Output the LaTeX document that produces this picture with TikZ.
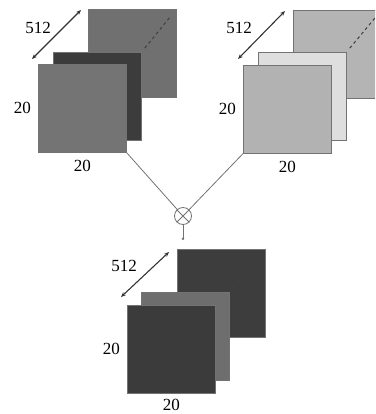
\documentclass[tikz,border=0pt]{standalone}
\usepackage{fontspec}
\setmainfont{Liberation Serif}
\usetikzlibrary{arrows.meta, positioning}

\definecolor{tlback}{HTML}{707070}
\definecolor{tlmid}{HTML}{3C3C3C}
\definecolor{tlfront}{HTML}{747474}
\definecolor{trback}{HTML}{B4B4B4}
\definecolor{trmid}{HTML}{DEDEDE}
\definecolor{trfront}{HTML}{B2B2B2}
\definecolor{btback}{HTML}{3D3D3D}
\definecolor{btmid}{HTML}{6E6E6E}
\definecolor{btfront}{HTML}{3B3B3B}

\begin{document}
\begin{tikzpicture}[
    x=1pt, y=-1pt,
    sheet/.style={draw=black!55, line width=0.6pt, fill=#1, rectangle, minimum width=88pt, minimum height=88pt, inner sep=0pt, anchor=north west},
    dim/.style={font=\fontsize{17}{20}\selectfont, inner sep=0pt},
    depth/.style={{Stealth[length=5pt, width=4pt]}-{Stealth[length=5pt, width=4pt]}, line width=1.1pt, black!80},
    hidden/.style={dashed, line width=1pt, black!75, shorten <=5pt, shorten >=9pt},
    wire/.style={draw=black!55, line width=0.8pt},
    mult/.style={draw=black!55, line width=0.8pt, circle, minimum size=17pt, inner sep=0pt}
]
\clip (0,0) rectangle (375,414);

% Left input
\node[sheet=tlback] (tl_back) at (88,9) {};
\node[sheet=tlmid] (tl_mid) at (53,52) {};
\node[sheet=tlfront] (tl_front) at (38,64) {};
\draw[hidden] (tl_mid.north east) -- (tl_back.north east);
\draw[depth] ([shift={(-6,-5)}]tl_front.north west) -- ([shift={(-7,1)}]tl_back.north west);
\node[dim] (tl_depth) at (38,28) {512};
\node[dim, left=7pt of tl_front] (tl_h) {20};
\node[dim, below=7pt of tl_front] (tl_w) {20};

% Right input
\node[sheet=trback] (tr_back) at (293,10) {};
\node[sheet=trmid] (tr_mid) at (258,52) {};
\node[sheet=trfront] (tr_front) at (243,65) {};
\draw[hidden] (tr_mid.north east) -- (tr_back.north east);
\draw[depth] ([shift={(-5,-6)}]tr_front.north west) -- ([shift={(-8,1)}]tr_back.north west);
\node[dim] (tr_depth) at (239,28) {512};
\node[dim, left=7pt of tr_front] (tr_h) {20};
\node[dim, below=7pt of tr_front] (tr_w) {20};

% Product
\node[mult] (mul) at (183,216) {};
\draw[wire] (mul.45) -- (mul.225) (mul.135) -- (mul.315);
\draw[wire] (tl_front.south east) -- (mul);
\draw[wire] (tr_front.south west) -- (mul);
\coordinate (stem) at (183,240);
\draw[wire, -{Circle[length=2.5pt]}] (mul.south) -- (stem);

% Output
\node[sheet=btback] (bt_back) at (177,249) {};
\node[sheet=btmid] (bt_mid) at (141,292) {};
\node[sheet=btfront] (bt_front) at (127,305) {};
\draw[hidden] (bt_mid.north east) -- (bt_back.north east);
\draw[depth] ([shift={(-6,-8)}]bt_front.north west) -- ([shift={(-8,3)}]bt_back.north west);
\node[dim] (bt_depth) at (124,266) {512};
\node[dim, left=7pt of bt_front] (bt_h) {20};
\node[dim, below=5pt of bt_front] (bt_w) {20};

\end{tikzpicture}
\end{document}
